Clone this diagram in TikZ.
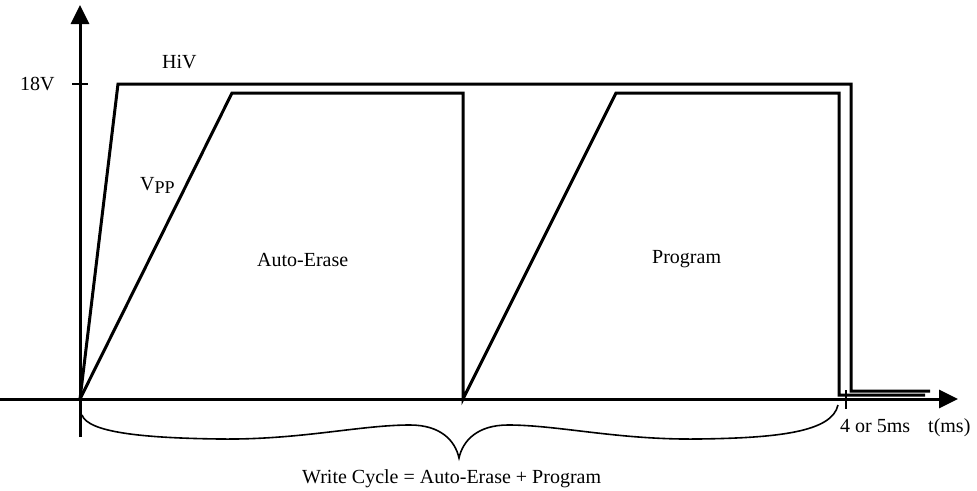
\documentclass[tikz,border=0pt]{standalone}
\usepackage{fontspec}
\setmainfont{Liberation Serif}
\usetikzlibrary{arrows.meta}
\tikzset{
  wave/.style={line width=3pt, line join=miter, line cap=butt},
  axisline/.style={line width=3pt, -{Triangle[length=19pt,width=18pt]}},
  tickline/.style={line width=2pt},
  bracepath/.style={line width=1.6pt},
  lbl/.style={anchor=base west, inner sep=0pt, font=\fontsize{20}{23}\selectfont},
}
\begin{document}
\begin{tikzpicture}[x=1pt,y=-1pt]
\useasboundingbox (0,0) rectangle (977,490);
% axes
\coordinate (origin) at (80,399);
\coordinate (ybot) at (80,437);
\coordinate (ytop) at (80,5);
\coordinate (xleft) at (0,399);
\coordinate (xright) at (958,399);
\draw[axisline] (ybot) -- (ytop);
\draw[axisline] (xleft) -- (xright);
% ticks
\coordinate (t18a) at (72,84);
\coordinate (t18b) at (88,84);
\draw[tickline] (t18a) -- (t18b);
\coordinate (t5a) at (846,390);
\coordinate (t5b) at (846,409);
\draw[tickline] (t5a) -- (t5b);
% HiV waveform
\coordinate (h1) at (118,84);
\coordinate (h2) at (851,84);
\coordinate (h3) at (851,391);
\coordinate (h4) at (930,391);
\draw[wave] (origin) -- (h1) -- (h2) -- (h3) -- (h4);
% VPP waveform
\coordinate (v1) at (232,93);
\coordinate (v2) at (463,93);
\coordinate (v3) at (463,399);
\coordinate (v4) at (616,93);
\coordinate (v5) at (839,93);
\coordinate (v6) at (839,395);
\coordinate (v7) at (925,395);
\draw[wave] (origin) -- (v1) -- (v2) -- (v3) -- (v4) -- (v5) -- (v6) -- (v7);
% brace
\coordinate (b0) at (82,415);
\coordinate (b1) at (220,439);
\coordinate (b2) at (410,425);
\coordinate (bt) at (459,458);
\coordinate (b3) at (508,425);
\coordinate (b4) at (698,439);
\coordinate (b5) at (838,405);
\draw[bracepath] (b0) .. controls (88,432) and (140,438) .. (b1)
  .. controls (300,440) and (360,425) .. (b2)
  .. controls (440,425) and (455,440) .. (bt)
  .. controls (463,440) and (478,425) .. (b3)
  .. controls (558,425) and (618,440) .. (b4)
  .. controls (778,438) and (832,432) .. (b5);
% labels
\node[lbl] (l18) at (20,90) {18V};
\node[lbl] (lhiv) at (162,68) {HiV};
\node[lbl] (lvpp) at (140,190) {V\raisebox{-0.35ex}{\fontsize{18}{21}\selectfont PP}};
\node[lbl] (lae) at (257,266) {Auto-Erase};
\node[lbl] (lprog) at (652,263) {Program};
\node[lbl] (l45) at (840,432) {4 or 5ms};
\node[lbl] (lt) at (928,432) {t(ms)};
\node[lbl] (lwc) at (302,483) {Write Cycle = Auto-Erase + Program};
\end{tikzpicture}
\end{document}
